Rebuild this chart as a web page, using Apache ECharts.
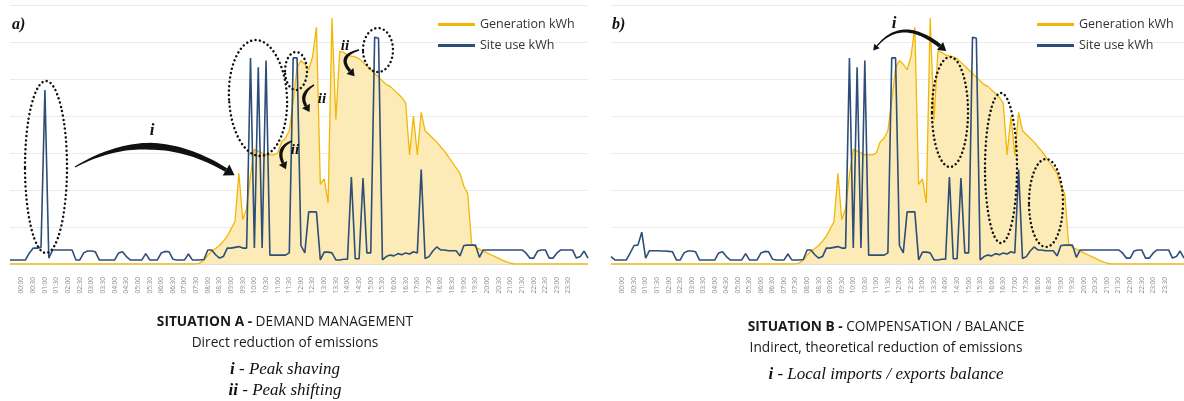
<!DOCTYPE html>
<html><head><meta charset="utf-8">
<script src="https://cdn.jsdelivr.net/npm/echarts@6/dist/echarts.min.js"></script>
<style>html,body{margin:0;padding:0;background:#fff}#c{width:1184px;height:401px}</style>
</head><body><div id="c"></div>
<script>
// ---- data (10-minute readings, first reading at -30 min) ----
const firstMinute = -30;
const stepMinutes = 10;
const seriesNames = ['Generation kWh', 'Site use kWh'];
const panelLabels = ['a)', 'b)'];

const generation = [
  0,0,0,0,0,0,0,0,0,0, 0,0,0,0,0,0,0,0,0,0, 0,0,0,0,0,0,0,0,0,0, 0,0,0,0,0,0,0,0,0,0, 0,0,0,0,0,0,0,0,0,
  0.03,0.1,0.24,0.35,0.42,0.5,0.62,0.75,0.95,1.15,
  2.45,1.2,1.5,2.4,3.1,3.05,3.0,2.95,2.95,2.95,
  3.0,3.3,3.4,3.6,4.4,5.3,5.5,5.4,5.25,5.6,
  6.4,2.15,2.3,1.65,6.65,3.9,5.75,5.72,5.65,5.62,
  5.6,5.55,5.45,5.35,5.25,5.15,5.05,4.95,4.85,4.8,
  4.7,4.6,4.5,4.35,2.95,4.0,2.95,4.1,3.6,3.5,
  3.4,3.3,3.17,3.05,2.9,2.75,2.6,2.45,2.1,1.9,
  0.55,0.45,0.4,0.35,0.3,0.25,0.2,0.15,0.1,0.06,0.02,
  0,0,0,0,0,0,0,0,0,0, 0,0,0,0,0,0,0,0,0,0
];

const siteUseA = [
  0.11,0.11,0.11,0.11,0.11,0.3,0.43,0.43,0.45,4.7,
  0.16,0.38,0.38,0.38,0.38,0.38,0.38,0.11,0.11,0.3,
  0.35,0.35,0.33,0.11,0.11,0.11,0.11,0.11,0.3,0.33,
  0.2,0.11,0.11,0.11,0.11,0.28,0.11,0.11,0.11,0.3,
  0.34,0.33,0.13,0.11,0.11,0.11,0.27,0.11,0.11,0.11,
  0.12,0.38,0.38,0.25,0.16,0.2,0.43,0.43,0.45,0.47,
  0.43,0.43,5.57,0.43,5.32,0.43,5.5,0.24,0.24,0.24,
  0.24,0.24,0.3,5.57,5.57,0.5,0.3,1.41,1.41,1.41,
  0.11,0.32,0.32,0.3,0.11,0.11,0.13,0.13,2.35,0.14,
  0.14,2.32,0.3,0.3,6.13,6.1,0.11,0.2,0.24,0.22,
  0.28,0.25,0.3,0.27,0.33,0.3,2.55,0.15,0.2,0.35,
  0.46,0.38,0.38,0.36,0.36,0.36,0.22,0.5,0.51,0.51,
  0.51,0.18,0.38,0.38,0.38,0.38,0.38,0.38,0.38,0.38,
  0.38,0.38,0.38,0.3,0.16,0.16,0.35,0.38,0.38,0.16,
  0.16,0.3,0.38,0.38,0.38,0.38,0.16,0.2,0.35,0.16
];

const siteUseB = [
  0.2,0.11,0.11,0.11,0.11,0.3,0.5,0.51,0.86,0.16,
  0.36,0.36,0.36,0.35,0.35,0.34,0.33,0.11,0.11,0.3,
  0.35,0.35,0.33,0.11,0.11,0.11,0.11,0.11,0.3,0.33,
  0.2,0.11,0.11,0.11,0.11,0.28,0.11,0.11,0.11,0.3,
  0.34,0.33,0.13,0.11,0.11,0.11,0.27,0.11,0.11,0.11,
  0.12,0.38,0.38,0.25,0.16,0.2,0.43,0.43,0.45,0.47,
  0.43,0.43,5.57,0.43,5.32,0.43,5.5,0.24,0.24,0.24,
  0.24,0.24,0.3,5.57,5.57,0.5,0.3,1.41,1.41,1.41,
  0.11,0.32,0.32,0.3,0.11,0.11,0.13,0.13,2.35,0.14,
  0.14,2.32,0.3,0.3,6.13,6.1,0.11,0.2,0.24,0.22,
  0.28,0.25,0.3,0.27,0.33,0.3,2.55,0.15,0.2,0.35,
  0.46,0.38,0.38,0.36,0.36,0.36,0.22,0.5,0.51,0.51,
  0.51,0.18,0.38,0.38,0.38,0.38,0.38,0.38,0.38,0.38,
  0.38,0.38,0.38,0.3,0.16,0.16,0.35,0.38,0.38,0.16,
  0.16,0.3,0.38,0.38,0.38,0.38,0.16,0.2,0.35,0.16
];

const captionA = ['SITUATION A - ', 'DEMAND MANAGEMENT', 'Direct reduction of emissions'];
const notesA = [['i', 'Peak shaving'], ['ii', 'Peak shifting']];
const captionB = ['SITUATION B - ', 'COMPENSATION / BALANCE', 'Indirect, theoretical reduction of emissions'];
const notesB = [['i', 'Local imports / exports balance']];

// ---- helpers ----
const minutes = generation.map((_, i) => firstMinute + i * stepMinutes);
const pairs = arr => arr.map((v, i) => [minutes[i], v]);
const pad = n => (n < 10 ? '0' : '') + n;
const fmtTime = v => (v < 0 || v > 1410) ? '' : pad(Math.floor(v / 60)) + ':' + pad(v % 60);

const GEN = '#F2B705', GENFILL = '#FCEBB6', USE = '#2C4E78';
const SERIF = '"Liberation Serif","DejaVu Serif",serif';
const SANS = '"Open Sans","Noto Sans",sans-serif';

function dotted(cx, cy, rx, ry, rot) {
  return {type: 'ellipse', x: cx, y: cy, rotation: rot || 0, shape: {cx: 0, cy: 0, rx: rx, ry: ry},
    style: {fill: 'none', stroke: '#111', lineWidth: 2.5, lineDash: [0.01, 4.4], lineCap: 'round'}, silent: true, z: 100};
}
function qpt(p0, c, p2, t) {
  const a = (1 - t) * (1 - t), b = 2 * (1 - t) * t, d = t * t;
  return [a * p0[0] + b * c[0] + d * p2[0], a * p0[1] + b * c[1] + d * p2[1]];
}
function qdir(p0, c, p2, t) {
  const dx = 2 * (1 - t) * (c[0] - p0[0]) + 2 * t * (p2[0] - c[0]);
  const dy = 2 * (1 - t) * (c[1] - p0[1]) + 2 * t * (p2[1] - c[1]);
  const l = Math.hypot(dx, dy) || 1; return [dx / l, dy / l];
}
function head(tipBase, dir, len, w) {
  const n = [-dir[1], dir[0]];
  return {type: 'polygon', shape: {points: [
    [tipBase[0] + dir[0] * len, tipBase[1] + dir[1] * len],
    [tipBase[0] + n[0] * w / 2, tipBase[1] + n[1] * w / 2],
    [tipBase[0] - n[0] * w / 2, tipBase[1] - n[1] * w / 2]]}, style: {fill: '#111'}, silent: true, z: 101};
}
function arrow(p0, c, p2, w0, wm, w1, hl, hw, startHead) {
  const L = [], R = [], N = 40;
  for (let k = 0; k <= N; k++) {
    const t = k / N, p = qpt(p0, c, p2, t), d = qdir(p0, c, p2, t), n = [-d[1], d[0]];
    const w = t < 0.5 ? w0 + (wm - w0) * t * 2 : wm + (w1 - wm) * (t - 0.5) * 2;
    L.push([p[0] + n[0] * w / 2, p[1] + n[1] * w / 2]);
    R.push([p[0] - n[0] * w / 2, p[1] - n[1] * w / 2]);
  }
  const els = [{type: 'polygon', shape: {points: L.concat(R.reverse())}, style: {fill: '#111'}, silent: true, z: 101}];
  els.push(head(p2, qdir(p0, c, p2, 1), hl, hw));
  if (startHead) { const d = qdir(p0, c, p2, 0); els.push(head(p0, [-d[0], -d[1]], startHead[0], startHead[1])); }
  return els;
}
function label(txt, x, y, size, align) {
  return {type: 'text', x: x, y: y, silent: true, z: 102,
    style: {text: txt, font: 'italic bold ' + size + 'px ' + SERIF, fill: '#111',
      align: align || 'center', verticalAlign: 'middle', textAlign: align || 'center', textVerticalAlign: 'middle'}};
}
function caption(cx, y0, cap, notes) {
  const els = [];
  els.push({type: 'text', x: cx, y: y0, silent: true, style: {
    text: '{b|' + cap[0] + '}{n|' + cap[1] + '}', align: 'center', verticalAlign: 'middle', textAlign: 'center', textVerticalAlign: 'middle',
    rich: {b: {fontFamily: SANS, fontSize: 13.7, fontWeight: 'bold', fill: '#1a1a1a', color: '#1a1a1a'},
           n: {fontFamily: SANS, fontSize: 13.7, fill: '#1a1a1a', color: '#1a1a1a'}}}});
  els.push({type: 'text', x: cx, y: y0 + 21, silent: true, style: {
    text: cap[2], font: '13.7px ' + SANS, fill: '#1a1a1a', align: 'center', verticalAlign: 'middle', textAlign: 'center', textVerticalAlign: 'middle'}});
  notes.forEach((nt, k) => {
    els.push({type: 'text', x: cx, y: y0 + 48 + k * 21, silent: true, style: {
      text: '{b|' + nt[0] + '}{r| - }{n|' + nt[1] + '}', align: 'center', verticalAlign: 'middle', textAlign: 'center', textVerticalAlign: 'middle',
      rich: {b: {fontFamily: SERIF, fontSize: 17, fontWeight: 'bold', fontStyle: 'italic', fill: '#111', color: '#111'},
             r: {fontFamily: SERIF, fontSize: 17, fill: '#111', color: '#111'},
             n: {fontFamily: SERIF, fontSize: 17, fontStyle: 'italic', fill: '#111', color: '#111'}}}});
  });
  return els;
}

// ---- layout ----
const panels = [{left: 10}, {left: 611}];
const grids = panels.map(p => ({left: p.left, top: 5, width: 578, height: 259}));
const xAxes = panels.map((p, k) => ({
  type: 'value', gridIndex: k, min: -30, max: 1460, interval: 30,
  axisLine: {show: true, lineStyle: {color: '#dcdcdc'}}, axisTick: {show: false}, splitLine: {show: false},
  axisLabel: {rotate: 90, fontSize: 6.5, color: '#8a8a8a', margin: 13, fontFamily: SANS, formatter: fmtTime,
    showMinLabel: true, showMaxLabel: true}
}));
const yAxes = panels.map((p, k) => ({
  type: 'value', gridIndex: k, min: 0, max: 7, interval: 1,
  axisLabel: {show: false}, axisLine: {show: false}, axisTick: {show: false},
  splitLine: {show: true, lineStyle: {color: '#ebebeb', width: 1}}
}));
const useData = [siteUseA, siteUseB];
const series = [];
panels.forEach((p, k) => {
  series.push({name: seriesNames[0], type: 'line', xAxisIndex: k, yAxisIndex: k, data: pairs(generation),
    symbol: 'none', lineStyle: {color: GEN, width: 1.3}, itemStyle: {color: GEN},
    areaStyle: {color: GENFILL, opacity: 1}, z: 2, animation: false});
  series.push({name: seriesNames[1], type: 'line', xAxisIndex: k, yAxisIndex: k, data: pairs(useData[k]),
    symbol: 'none', lineStyle: {color: USE, width: 1.6}, itemStyle: {color: USE}, z: 3, animation: false});
});
const legends = [438, 1037].map(x => ({
  left: x, top: 17, padding: 0, orient: 'vertical', icon: 'rect', itemWidth: 37, itemHeight: 3, itemGap: 6, itemTextGap: 3,
  selectedMode: false, data: seriesNames,
  textStyle: {fontFamily: SANS, fontSize: 12.5, color: '#333', lineHeight: 15}
}));

let graphics = [];
graphics.push(label(panelLabels[0], 12, 25, 16, 'left'));
graphics.push(label(panelLabels[1], 612, 25, 16, 'left'));
// panel a annotations
graphics.push(dotted(46, 167, 21, 86));
graphics.push(dotted(258, 98, 29, 58, 0.05));
graphics.push(dotted(296, 71, 11, 19));
graphics.push(dotted(378, 50, 15, 22));
graphics = graphics.concat(arrow([75, 167], [150, 124], [226, 170], 1, 7, 4, 10, 13));
graphics.push(label('i', 152, 131, 17));
graphics = graphics.concat(arrow([292, 141], [276, 148], [283, 163], 1.5, 3.5, 3, 7, 9));
graphics.push(label('ii', 295, 150, 15));
graphics = graphics.concat(arrow([314, 85], [299, 94], [306, 106], 1.5, 3.5, 3, 7, 9));
graphics.push(label('ii', 322, 99, 15));
graphics = graphics.concat(arrow([359, 50], [337, 56], [350, 71], 1.5, 3.5, 3, 7, 9));
graphics.push(label('ii', 345, 46, 15));
// panel b annotations
graphics = graphics.concat(arrow([877, 46], [902, 16], [940, 46], 1.2, 3, 4, 8, 10, [6, 7]));
graphics.push(label('i', 894, 24, 17));
graphics.push(dotted(950, 112, 18, 55));
graphics.push(dotted(1001, 168, 16, 75));
graphics.push(dotted(1046, 203, 17, 44));
// captions
graphics = graphics.concat(caption(285, 322, captionA, notesA));
graphics = graphics.concat(caption(886, 327, captionB, notesB));

const chart = echarts.init(document.getElementById('c'), null, {renderer: 'canvas'});
chart.setOption({
  animation: false, backgroundColor: '#fff',
  grid: grids, xAxis: xAxes, yAxis: yAxes, series: series, legend: legends,
  graphic: {elements: graphics}
});
</script></body></html>
